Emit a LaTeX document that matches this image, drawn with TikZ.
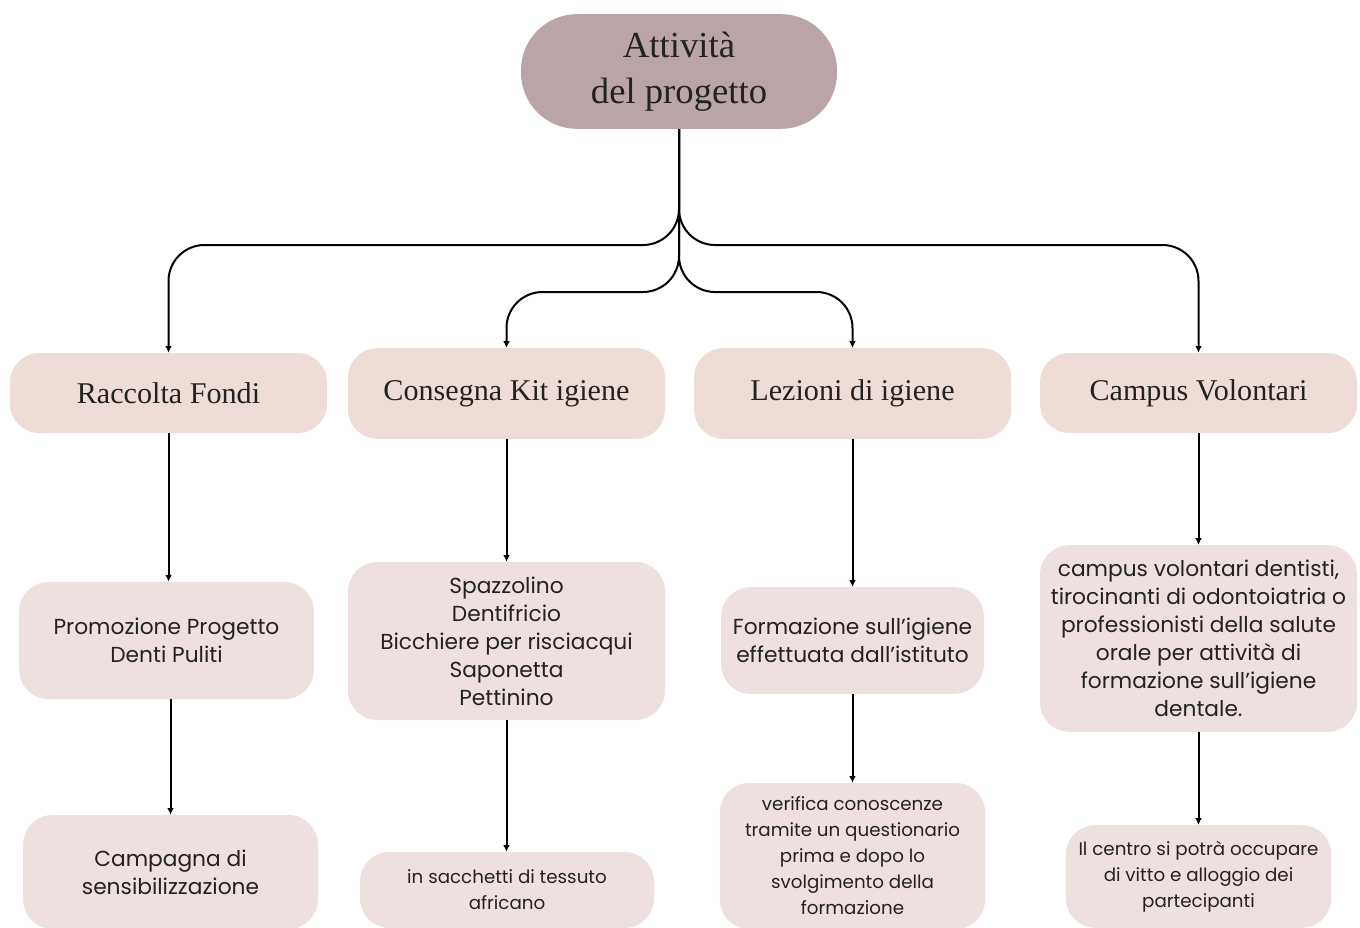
\documentclass[tikz,border=0pt]{standalone}
\usepackage{fontspec}
\setmainfont{Liberation Serif}
\newfontfamily\bodyfont{Poppins}
\usetikzlibrary{arrows.meta}
\definecolor{topc}{HTML}{B9A5A8}
\definecolor{lvone}{HTML}{EEDCD6}
\definecolor{lvtwo}{HTML}{EFE0E0}
\definecolor{txt}{HTML}{222222}
\begin{document}
\begin{tikzpicture}[x=0.75pt,y=-0.75pt,
  topbox/.style={fill=topc, rounded corners=42pt, minimum width=237pt, minimum height=86pt, inner sep=0pt,
    text=txt, align=center, font=\fontsize{27.5}{34.5}\selectfont},
  headbox/.style={fill=lvone, rounded corners=22pt, minimum width=237.75pt, inner sep=0pt,
    text=txt, align=center, font=\fontsize{22.6}{26}\selectfont},
  midbox/.style={fill=lvtwo, rounded corners=22pt, inner sep=0pt,
    text=txt, align=center, font=\bodyfont\fontsize{16.3}{21}\selectfont},
  lowbox/.style={fill=lvtwo, rounded corners=22pt, inner sep=0pt,
    text=txt, align=center, font=\bodyfont\fontsize{13.7}{19.5}\selectfont},
  conn/.style={draw=black, line width=1.5pt, -{Latex[length=5pt,width=5pt]}},
  branch/.style={conn, rounded corners=27pt}]
\useasboundingbox (0,0) rectangle (1360,928);
\clip (0,0) rectangle (1360,928);
% top
\node[topbox] (top) at (679,71.5) {Attività\\del progetto};
% level 1
\node[headbox, minimum height=60pt] (rac) at (168.5,393) {Raccolta Fondi};
\node[headbox, minimum height=68pt] (kit) at (506.5,393.5) {Consegna Kit igiene};
\node[headbox, minimum height=68pt] (lez) at (852.5,393.5) {Lezioni di igiene};
\node[headbox, minimum height=60pt] (cam) at (1198.5,393) {Campus Volontari};
% level 2
\node[midbox, minimum width=221pt, minimum height=88pt] (pro) at (166.5,640.5) {Promozione Progetto\\Denti Puliti};
\node[midbox, minimum width=237.75pt, minimum height=118.5pt] (spa) at (506.5,641) {Spazzolino\\Dentifricio\\Bicchiere per risciacqui\\Saponetta\\Pettinino};
\node[midbox, minimum width=197pt, minimum height=80pt] (for) at (852.5,640.5) {Formazione sull’igiene\\effettuata dall’istituto};
\node[midbox, minimum width=237.75pt, minimum height=140pt] (cvd) at (1198.5,638.5) {campus volontari dentisti,\\tirocinanti di odontoiatria o\\professionisti della salute\\orale per attività di\\formazione sull’igiene\\dentale.};
% level 3
\node[midbox, minimum width=221pt, minimum height=85.5pt] (cmp) at (170.5,872) {Campagna di\\sensibilizzazione};
\node[lowbox, minimum width=220.5pt, minimum height=57pt] (sac) at (507,890) {in sacchetti di tessuto\\africano};
\node[lowbox, minimum width=199pt, minimum height=109.5pt] (ver) at (852.5,856) {verifica conoscenze\\tramite un questionario\\prima e dopo lo\\svolgimento della\\formazione};
\node[lowbox, minimum width=199pt, minimum height=77pt] (cen) at (1198.5,876.5) {Il centro si potrà occupare\\di vitto e alloggio dei\\partecipanti};
% branching connectors
\coordinate (outer) at (0,245);
\coordinate (inner) at (0,292);
\draw[branch] (top.south) -- (top.south |- outer) -- (rac.north |- outer) -- (rac.north);
\draw[branch] (top.south) -- (top.south |- outer) -- (cam.north |- outer) -- (cam.north);
\draw[branch] (top.south) -- (top.south |- inner) -- (kit.north |- inner) -- (kit.north);
\draw[branch] (top.south) -- (top.south |- inner) -- (lez.north |- inner) -- (lez.north);
% vertical connectors
\draw[conn] (rac.south) -- (rac.south |- pro.north);
\draw[conn] (cmp.north |- pro.south) -- (cmp.north);
\draw[conn] (kit.south) -- (spa.north);
\draw[conn] (spa.south) -- (spa.south |- sac.north);
\draw[conn] (lez.south) -- (lez.south |- for.north);
\draw[conn] (for.south) -- (for.south |- ver.north);
\draw[conn] (cam.south) -- (cam.south |- cvd.north);
\draw[conn] (cvd.south) -- (cvd.south |- cen.north);
\end{tikzpicture}
\end{document}
